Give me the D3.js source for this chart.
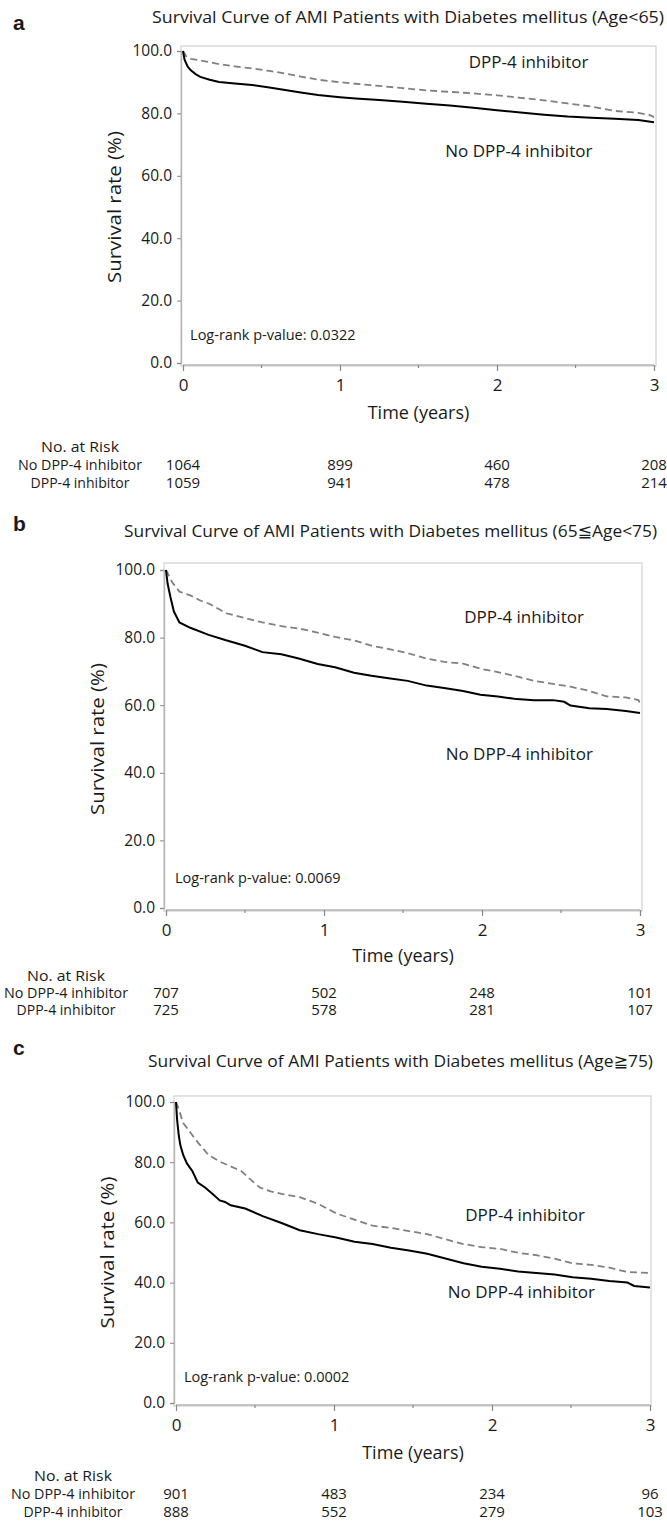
<!DOCTYPE html>
<html><head><meta charset="utf-8">
<script src="https://cdn.jsdelivr.net/npm/d3@7"></script>
<style>
body{margin:0;background:#fff}
svg{display:block}
text{font-family:"Open Sans","DejaVu Sans",sans-serif;fill:#1a1a1a}
</style>
</head><body>
<svg id="fig" width="667" height="1525"></svg>
<script>
// ---------------- DATA ----------------
const timeTicks = [0, 1, 2, 3];
const minorTicks = [0.5, 1.5, 2.5];
const yTicks = [0, 20, 40, 60, 80, 100];
const groupNames = ["No DPP-4 inhibitor", "DPP-4 inhibitor"];
const riskHeader = "No. at Risk";
const yLabel = "Survival rate (%)";
const xLabel = "Time (years)";
const panelLetters = ["a", "b", "c"];
const titles = [
  "Survival Curve of AMI Patients with Diabetes mellitus (Age<65)",
  "Survival Curve of AMI Patients with Diabetes mellitus (65\u2266Age<75)",
  "Survival Curve of AMI Patients with Diabetes mellitus (Age\u226775)"
];
const pValues = ["Log-rank p-value: 0.0322", "Log-rank p-value: 0.0069", "Log-rank p-value: 0.0002"];

// Panel a
const tA_no  = [0,0.01,0.03,0.05,0.08,0.11,0.17,0.23,0.33,0.44,0.55,0.65,0.75,0.86,1.0,1.1,1.25,1.4,1.55,1.7,1.85,2.0,2.15,2.3,2.45,2.6,2.75,2.9,3.0];
const sA_no  = [100,97.2,95.0,93.8,92.6,91.7,90.8,90.1,89.6,89.1,88.3,87.5,86.7,85.9,85.2,84.8,84.3,83.7,83.1,82.5,81.8,81.0,80.3,79.6,79.0,78.6,78.3,77.9,77.2];
const tA_dpp = [0,0.02,0.05,0.11,0.17,0.23,0.33,0.44,0.55,0.65,0.75,0.86,1.0,1.1,1.25,1.4,1.55,1.7,1.85,2.0,2.15,2.3,2.45,2.6,2.75,2.9,2.97,3.0];
const sA_dpp = [100,98.3,97.5,97.0,96.4,95.8,95.1,94.4,93.6,92.8,91.8,90.8,90.0,89.5,88.8,88.1,87.4,86.9,86.4,85.8,85.0,84.2,83.2,82.2,80.8,80.2,79.5,78.8];
const riskA_no  = [1064, 899, 460, 208];
const riskA_dpp = [1059, 941, 478, 214];

// Panel b
const tB_no  = [0,0.01,0.028,0.05,0.085,0.154,0.27,0.38,0.5,0.61,0.73,0.84,0.96,1.07,1.19,1.3,1.42,1.53,1.65,1.76,1.88,1.99,2.1,2.22,2.33,2.45,2.52,2.56,2.68,2.79,2.91,3.0];
const sB_no  = [100,96,92.0,87.7,84.5,82.9,80.8,79.2,77.6,75.7,75.1,73.8,72.2,71.2,69.6,68.7,67.9,67.2,65.8,65.1,64.2,63.1,62.6,61.8,61.5,61.5,61.0,59.9,59.1,58.9,58.3,57.7];
const tB_dpp = [0,0.04,0.085,0.154,0.22,0.27,0.34,0.38,0.5,0.61,0.73,0.84,0.96,1.07,1.19,1.3,1.42,1.53,1.65,1.76,1.88,1.99,2.1,2.22,2.33,2.45,2.56,2.68,2.79,2.91,2.99,3.0];
const sB_dpp = [100,96.3,93.6,92.5,90.9,90.1,88.3,87.2,85.8,84.5,83.4,82.7,81.5,80.2,79.2,77.6,76.5,75.4,73.8,72.8,72.3,70.8,69.8,68.5,67.2,66.3,65.5,64.2,62.6,62.3,61.5,60.5];
const riskB_no  = [707, 502, 248, 101];
const riskB_dpp = [725, 578, 281, 107];

// Panel c
const tC_no  = [0,0.007,0.018,0.028,0.046,0.069,0.104,0.138,0.184,0.23,0.277,0.31,0.346,0.438,0.553,0.668,0.783,0.899,1.014,1.13,1.244,1.36,1.475,1.59,1.705,1.82,1.935,2.05,2.166,2.28,2.396,2.51,2.627,2.742,2.857,2.9,3.0];
const sC_no  = [100,94.1,88.7,85.5,82.3,79.6,77.0,73.2,71.6,69.5,67.3,66.8,65.7,64.6,62.0,59.8,57.4,56.1,55.0,53.6,52.8,51.6,50.7,49.6,48.0,46.4,45.3,44.6,43.7,43.2,42.7,41.8,41.3,40.5,40.0,38.9,38.4];
const tC_dpp = [0,0.012,0.046,0.092,0.138,0.207,0.277,0.346,0.415,0.46,0.53,0.6,0.668,0.783,0.899,1.014,1.13,1.244,1.36,1.475,1.59,1.705,1.82,1.935,2.05,2.166,2.28,2.396,2.51,2.627,2.742,2.857,3.0];
const sC_dpp = [100,98.4,93.0,89.8,86.6,82.3,80.2,78.6,77.0,74.8,71.6,70.3,69.5,68.4,66.2,63.0,60.9,58.9,58.2,57.1,56.1,54.4,52.8,51.8,51.2,49.9,49.1,48.0,46.4,45.9,45.0,43.5,43.2];
const riskC_no  = [901, 483, 234, 96];
const riskC_dpp = [888, 552, 279, 103];

// ---------------- LAYOUT ----------------
const panels = [
  {t_no:tA_no, s_no:sA_no, t_dpp:tA_dpp, s_dpp:sA_dpp, r_no:riskA_no, r_dpp:riskA_dpp,
   letterY:30, titleX:152, titleY:23, titleW:512,
   frame:{l:181, r:656, t:46, b:366}, x0:183, x3:654, y100:51, y0:363,
   timeY:419, ylabX:121,
   dpp:[1.82, 96.5], nodpp:[1.67, 68], lr:[0.045, 9],
   riskX:80, riskY:[452, 470, 488]},
  {t_no:tB_no, s_no:sB_no, t_dpp:tB_dpp, s_dpp:sB_dpp, r_no:riskB_no, r_dpp:riskB_dpp,
   letterY:531, titleX:124, titleY:537, titleW:533,
   frame:{l:164, r:642, t:563, b:911}, x0:166, x3:640, y100:570, y0:908,
   timeY:962, ylabX:104,
   dpp:[1.887, 86], nodpp:[1.77, 45.5], lr:[0.057, 9],
   riskX:66, riskY:[981, 998, 1015]},
  {t_no:tC_no, s_no:sC_no, t_dpp:tC_dpp, s_dpp:sC_dpp, r_no:riskC_no, r_dpp:riskC_dpp,
   letterY:1055, titleX:148, titleY:1067, titleW:505,
   frame:{l:174, r:651, t:1096, b:1406}, x0:176, x3:650, y100:1102, y0:1403,
   timeY:1459, ylabX:114,
   dpp:[1.83, 62.5], nodpp:[1.72, 37], lr:[0.05, 8.5],
   riskX:73, riskY:[1481, 1499, 1517]}
];

const svg = d3.select("#fig");

function fit(sel, w) { return sel.attr("textLength", w).attr("lengthAdjust", "spacingAndGlyphs"); }

panels.forEach((p, i) => {
  const g = svg.append("g");
  const x = d3.scaleLinear().domain([0, 3]).range([p.x0, p.x3]);
  const y = d3.scaleLinear().domain([0, 100]).range([p.y0, p.y100]);

  // panel letter
  g.append("text").attr("x", 13).attr("y", p.letterY)
    .style("font-family", "'Liberation Sans', Arial, sans-serif")
    .style("font-weight", "bold").style("font-size", "21px").text(panelLetters[i]);

  // title
  fit(g.append("text").attr("x", p.titleX).attr("y", p.titleY)
    .style("font-size", "17px").text(titles[i]), p.titleW);

  // frame
  g.append("rect").attr("x", p.frame.l).attr("y", p.frame.t)
    .attr("width", p.frame.r - p.frame.l).attr("height", p.frame.b - p.frame.t)
    .attr("fill", "none").attr("stroke", "#d0d0d0").attr("stroke-width", 1.2);

  // y axis
  const ya = g.append("g").attr("transform", `translate(${p.frame.l},0)`)
    .call(d3.axisLeft(y).tickValues(yTicks).tickFormat(d3.format(".1f")).tickSize(4).tickPadding(5));
  ya.select(".domain").attr("stroke", "#b5b5b5").attr("stroke-width", 1.4);
  ya.selectAll(".tick line").attr("stroke", "#888");
  ya.selectAll(".tick text").style("font-size", "15.5px").style("font-family", "'Open Sans',sans-serif").attr("fill", "#1a1a1a");

  // x axis
  const xa = g.append("g").attr("transform", `translate(0,${p.frame.b - 1})`)
    .call(d3.axisBottom(x).tickValues(timeTicks).tickFormat(d3.format("d")).tickSize(6).tickPadding(8));
  xa.select(".domain").attr("stroke", "#b5b5b5").attr("stroke-width", 1.4).attr("d", `M${p.x0},0H${p.x3}`);
  xa.selectAll(".tick line").attr("stroke", "#888").attr("stroke-width", 1.2);
  xa.selectAll(".tick text").style("font-size", "17px").style("font-family", "'Open Sans',sans-serif").attr("fill", "#1a1a1a");
  g.append("g").selectAll("line").data(minorTicks).join("line")
    .attr("x1", d => x(d)).attr("x2", d => x(d))
    .attr("y1", p.frame.b - 1).attr("y2", p.frame.b + 2)
    .attr("stroke", "#888").attr("stroke-width", 1.2);

  // axis labels
  fit(g.append("text").attr("transform", `translate(${p.ylabX},${(p.y0 + p.y100) / 2}) rotate(-90)`)
    .attr("text-anchor", "middle").style("font-size", "19px").text(yLabel), 152);
  g.append("text").attr("x", (p.x0 + p.x3) / 2).attr("y", p.timeY)
    .attr("text-anchor", "middle").style("font-size", "18px").text(xLabel);

  // curves
  const line = d3.line().x(d => x(d[0])).y(d => y(d[1])).curve(d3.curveLinear);
  const noData = d3.zip(p.t_no, p.s_no);
  const dppData = d3.zip(p.t_dpp, p.s_dpp);
  g.append("path").datum(dppData).attr("d", line).attr("fill", "none")
    .attr("stroke", "#808080").attr("stroke-width", 1.8).attr("stroke-dasharray", "7,4");
  g.append("path").datum(noData).attr("d", line).attr("fill", "none")
    .attr("stroke", "#000").attr("stroke-width", 2);

  // in-plot labels
  g.append("text").attr("x", x(p.dpp[0])).attr("y", y(p.dpp[1]) + 6).style("font-size", "17px").text(groupNames[1]);
  g.append("text").attr("x", x(p.nodpp[0])).attr("y", y(p.nodpp[1]) + 6).style("font-size", "17px").text(groupNames[0]);
  g.append("text").attr("x", x(p.lr[0])).attr("y", y(p.lr[1]) + 5).style("font-size", "14.5px").text(pValues[i]);

  // risk table
  fit(g.append("text").attr("x", p.riskX).attr("y", p.riskY[0]).attr("text-anchor", "middle")
    .style("font-size", "15px").text(riskHeader), 78);
  const labW = [124, 99];
  [[groupNames[0], p.r_no], [groupNames[1], p.r_dpp]].forEach((row, k) => {
    fit(g.append("text").attr("x", p.riskX).attr("y", p.riskY[k + 1]).attr("text-anchor", "middle")
      .style("font-size", "15px").text(row[0]), labW[k]);
    g.append("g").selectAll("text").data(row[1]).join("text")
      .attr("x", (d, j) => x(timeTicks[j])).attr("y", p.riskY[k + 1])
      .attr("text-anchor", "middle").style("font-size", "15px").text(d => d);
  });
});
</script>
</body></html>
